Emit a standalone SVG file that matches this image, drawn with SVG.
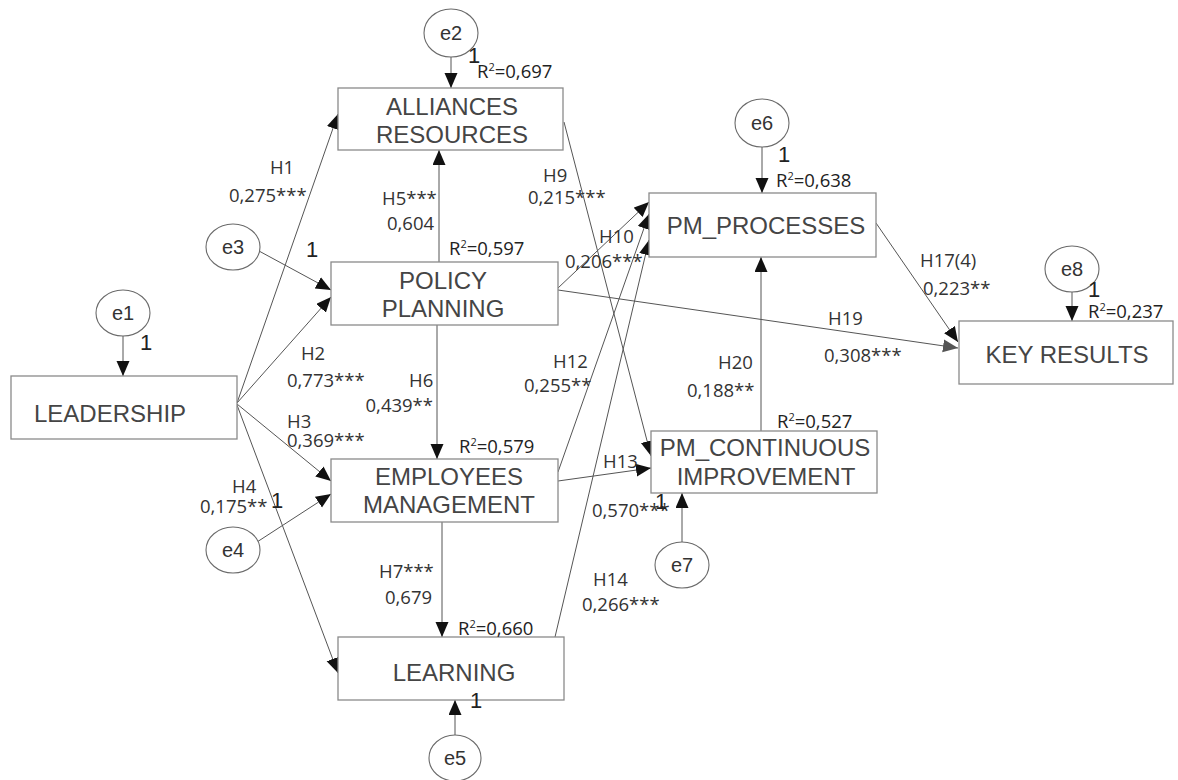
<svg xmlns="http://www.w3.org/2000/svg" width="1178" height="780" viewBox="0 0 1178 780">
<style>
.box{fill:#fff;stroke:#8a8a8a;stroke-width:1.3}
.bt{font-family:"Liberation Sans",Arial,sans-serif;font-size:24px;fill:#454545;text-anchor:middle}
.err{fill:#fff;stroke:#6a6a6a;stroke-width:1.1}
.et{font-family:"Liberation Sans",Arial,sans-serif;font-size:20px;fill:#333;text-anchor:middle}
.c{stroke:#555;stroke-width:1;fill:none;marker-end:url(#ah)}
.cg{stroke:#555;stroke-width:1;fill:none;marker-end:url(#ahg)}
.lb{font-family:"Open Sans","Noto Sans",sans-serif;font-size:18.5px;fill:#333}
.r2{font-family:"Open Sans","Noto Sans",sans-serif;font-size:18.5px;fill:#222}
.one{font-family:"Liberation Sans",Arial,sans-serif;font-size:22px;fill:#222}
</style>
<defs>
<marker id="ah" markerUnits="userSpaceOnUse" markerWidth="16" markerHeight="14" refX="15" refY="6.5" orient="auto">
<path d="M0,0 L15,6.5 L0,13 z" fill="#111"/>
</marker>
<marker id="ahg" markerUnits="userSpaceOnUse" markerWidth="16" markerHeight="14" refX="15" refY="6.5" orient="auto">
<path d="M0,0 L15,6.5 L0,13 z" fill="#555"/>
</marker>
</defs>
<rect width="1178" height="780" fill="#fff"/>

<g id="connectors">
<line class="c" x1="123" y1="336" x2="123" y2="376"/>
<line class="c" x1="451" y1="57" x2="451" y2="88"/>
<line class="c" x1="259" y1="251" x2="331" y2="290"/>
<line class="c" x1="257" y1="542" x2="331" y2="494"/>
<line class="c" x1="455" y1="735" x2="455" y2="700"/>
<line class="c" x1="762" y1="147" x2="762" y2="193"/>
<line class="c" x1="682" y1="542" x2="682" y2="493"/>
<line class="c" x1="1072" y1="292" x2="1072" y2="321"/>
<line class="c" x1="237" y1="403" x2="338" y2="114"/>
<line class="c" x1="237" y1="403" x2="331" y2="297"/>
<line class="c" x1="237" y1="404" x2="331" y2="481"/>
<line class="c" x1="237" y1="405" x2="338" y2="673"/>
<line class="c" x1="439" y1="262" x2="439" y2="150"/>
<line class="c" x1="437" y1="325" x2="437" y2="459"/>
<line class="c" x1="442" y1="522" x2="442" y2="637"/>
<line class="c" x1="564" y1="122" x2="651" y2="456"/>
<line class="c" x1="558" y1="288" x2="649" y2="202"/>
<line class="c" x1="558" y1="472" x2="649" y2="214"/>
<line class="c" x1="555" y1="637" x2="649" y2="240"/>
<line class="c" x1="558" y1="481" x2="651" y2="468"/>
<line class="c" x1="761" y1="431" x2="761" y2="257"/>
<line class="c" x1="876" y1="223" x2="958" y2="342"/>
<line class="cg" x1="558" y1="290" x2="958" y2="348"/>
</g>

<g id="e1"><ellipse class="err" cx="123" cy="313" rx="27" ry="23"/><text class="et" x="123" y="320">e1</text></g>
<g id="e2"><ellipse class="err" cx="451" cy="33" rx="27" ry="24"/><text class="et" x="451" y="40">e2</text></g>
<g id="e3"><ellipse class="err" cx="233" cy="247" rx="27" ry="23"/><text class="et" x="233" y="254">e3</text></g>
<g id="e4"><ellipse class="err" cx="233" cy="550" rx="27" ry="23"/><text class="et" x="233" y="557">e4</text></g>
<g id="e5"><ellipse class="err" cx="455" cy="758" rx="26" ry="23"/><text class="et" x="455" y="765">e5</text></g>
<g id="e6"><ellipse class="err" cx="762" cy="123" rx="27" ry="24"/><text class="et" x="762" y="130">e6</text></g>
<g id="e7"><ellipse class="err" cx="682" cy="565" rx="27" ry="23"/><text class="et" x="682" y="572">e7</text></g>
<g id="e8"><ellipse class="err" cx="1072" cy="269" rx="27" ry="23"/><text class="et" x="1072" y="276">e8</text></g>

<g id="alliances"><rect class="box" x="338" y="88" width="225" height="62"/><text class="bt" x="452" y="115">ALLIANCES</text><text class="bt" x="452" y="143">RESOURCES</text></g>
<g id="policy"><rect class="box" x="331" y="262" width="227" height="63"/><text class="bt" x="443" y="289">POLICY</text><text class="bt" x="443" y="317">PLANNING</text></g>
<g id="leadership"><rect class="box" x="11" y="376" width="226" height="63"/><text class="bt" x="34" y="422" style="text-anchor:start">LEADERSHIP</text></g>
<g id="employees"><rect class="box" x="331" y="459" width="227" height="63"/><text class="bt" x="449" y="485">EMPLOYEES</text><text class="bt" x="449" y="513">MANAGEMENT</text></g>
<g id="learning"><rect class="box" x="338" y="637" width="226" height="63"/><text class="bt" x="454" y="681">LEARNING</text></g>
<g id="pm_processes"><rect class="box" x="649" y="193" width="227" height="64"/><text class="bt" x="766" y="234">PM_PROCESSES</text></g>
<g id="pm_ci"><rect class="box" x="651" y="431" width="226" height="62"/><text class="bt" x="765" y="456">PM_CONTINUOUS</text><text class="bt" x="766" y="485">IMPROVEMENT</text></g>
<g id="key_results"><rect class="box" x="959" y="321" width="214" height="63"/><text class="bt" x="1067" y="363">KEY RESULTS</text></g>

<g id="labels">
<text class="lb" x="282" y="174" text-anchor="middle">H1</text>
<text class="lb" x="229" y="202">0,275***</text>
<text class="lb" x="382" y="205">H5***</text>
<text class="lb" x="387" y="230">0,604</text>
<text class="lb" x="543" y="182">H9</text>
<text class="lb" x="528" y="204">0,215***</text>
<text class="lb" x="599" y="243">H10</text>
<text class="lb" x="565" y="268">0,206***</text>
<text class="lb" x="920" y="267">H17(4)</text>
<text class="lb" x="923" y="295">0,223**</text>
<text class="lb" x="828" y="325">H19</text>
<text class="lb" x="824" y="362">0,308***</text>
<text class="lb" x="313" y="360" text-anchor="middle">H2</text>
<text class="lb" x="287" y="387">0,773***</text>
<text class="lb" x="409" y="387">H6</text>
<text class="lb" x="433" y="412" text-anchor="end">0,439**</text>
<text class="lb" x="287" y="428">H3</text>
<text class="lb" x="287" y="447">0,369***</text>
<text class="lb" x="553" y="368">H12</text>
<text class="lb" x="524" y="392">0,255**</text>
<text class="lb" x="718" y="369">H20</text>
<text class="lb" x="687" y="397">0,188**</text>
<text class="lb" x="603" y="468">H13</text>
<text class="lb" x="592" y="517">0,570***</text>
<text class="lb" x="232" y="493">H4</text>
<text class="lb" x="200" y="513">0,175**</text>
<text class="lb" x="379" y="578">H7***</text>
<text class="lb" x="385" y="604">0,679</text>
<text class="lb" x="593" y="586">H14</text>
<text class="lb" x="582" y="611">0,266***</text>

<text class="r2" x="477" y="78">R<tspan font-size="11" dy="-7">2</tspan><tspan dy="7">=0,697</tspan></text>
<text class="r2" x="449" y="255">R<tspan font-size="11" dy="-7">2</tspan><tspan dy="7">=0,597</tspan></text>
<text class="r2" x="776" y="187">R<tspan font-size="11" dy="-7">2</tspan><tspan dy="7">=0,638</tspan></text>
<text class="r2" x="1088" y="318">R<tspan font-size="11" dy="-7">2</tspan><tspan dy="7">=0,237</tspan></text>
<text class="r2" x="459" y="453">R<tspan font-size="11" dy="-7">2</tspan><tspan dy="7">=0,579</tspan></text>
<text class="r2" x="777" y="428">R<tspan font-size="11" dy="-7">2</tspan><tspan dy="7">=0,527</tspan></text>
<text class="r2" x="458" y="635">R<tspan font-size="11" dy="-7">2</tspan><tspan dy="7">=0,660</tspan></text>

<text class="one" x="140" y="350">1</text>
<text class="one" x="468" y="63">1</text>
<text class="one" x="306" y="257">1</text>
<text class="one" x="271" y="508">1</text>
<text class="one" x="778" y="162">1</text>
<text class="one" x="1088" y="297">1</text>
<text class="one" x="655" y="509">1</text>
<text class="one" x="470" y="708">1</text>
</g>
</svg>
